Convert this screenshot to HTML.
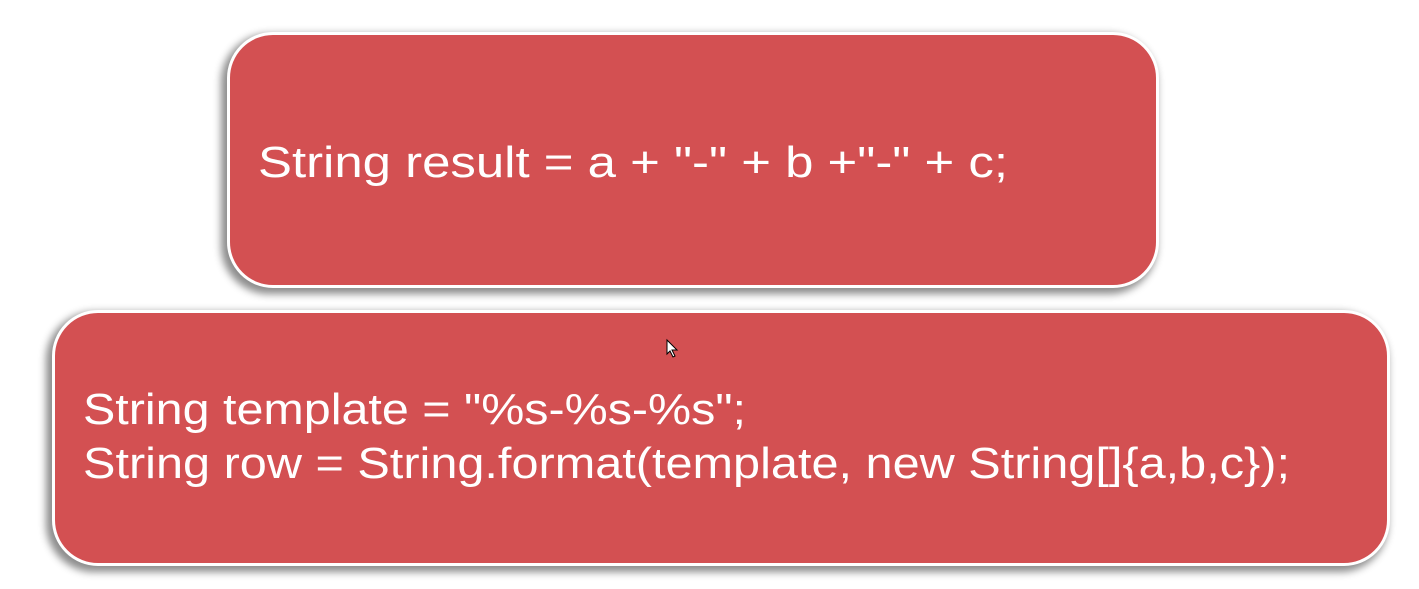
<!DOCTYPE html>
<html><head><meta charset="utf-8"><style>
html,body{margin:0;padding:0;background:#fff;width:1419px;height:589px;overflow:hidden}
.box{position:absolute;background:#D35052;border:3px solid #fff;box-sizing:border-box;box-shadow:-4px 4px 8px 2px rgba(0,0,0,0.45);}
svg{position:absolute;left:0;top:0}
</style></head><body>
<div class="box" style="left:227px;top:32px;width:932px;height:256px;border-radius:46px"></div>
<div class="box" style="left:52px;top:310px;width:1338px;height:256px;border-radius:46px"></div>
<svg width="1419" height="589" font-family="Liberation Sans, sans-serif" font-size="44" fill="#fff">
<text x="258" y="177" textLength="750" lengthAdjust="spacingAndGlyphs">String result = a + "-" + b +"-" + c;</text>
<text x="83" y="424" textLength="663" lengthAdjust="spacingAndGlyphs">String template = "%s-%s-%s";</text>
<text x="83" y="478" textLength="1207" lengthAdjust="spacingAndGlyphs">String row = String.format(template, new String[]{a,b,c});</text>
<path d="M667 340 L667 354 L670 351 L673 357 L675 356 L672 350 L677 350 Z" fill="#fff" stroke="#000" stroke-width="1"/>
</svg>
</body></html>
